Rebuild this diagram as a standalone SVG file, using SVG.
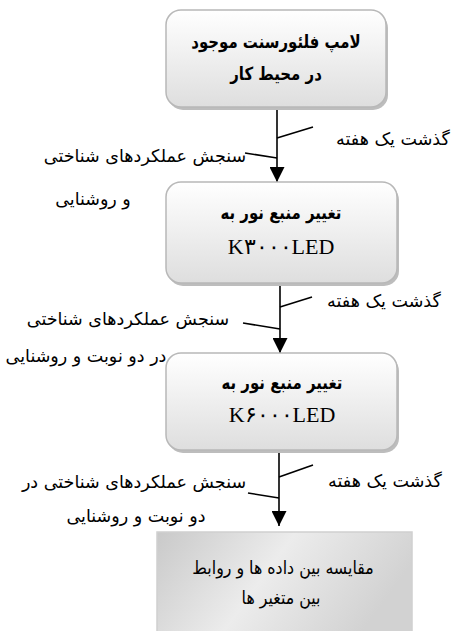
<svg xmlns="http://www.w3.org/2000/svg" width="453" height="631" viewBox="0 0 453 631">
<defs>
<linearGradient id="gBox" x1="0" y1="0" x2="0" y2="1">
<stop offset="0" stop-color="#ffffff"/>
<stop offset="1" stop-color="#dedede"/>
</linearGradient>
<linearGradient id="gBox4" x1="0" y1="0" x2="1" y2="0.3">
<stop offset="0" stop-color="#c9c9c9"/>
<stop offset="0.5" stop-color="#ececec"/>
<stop offset="1" stop-color="#d2d2d2"/>
</linearGradient>
<marker id="arr" viewBox="0 0 10 10" refX="10" refY="5" markerWidth="15" markerHeight="15" markerUnits="userSpaceOnUse" orient="auto">
<path d="M0,0 L10,5 L0,10 Z" fill="#000"/>
</marker>
</defs>
<style>
.box{fill:url(#gBox);stroke:#b8b8b8;stroke-width:1.5}
.shadow{fill:#bdbdbd}
.ar{font-family:"DejaVu Sans",sans-serif;font-size:17.5px;fill:#000;direction:rtl;unicode-bidi:embed}
.bt{font-family:"DejaVu Sans",sans-serif;font-size:18px;font-weight:bold;fill:#000;direction:rtl;unicode-bidi:embed}
.rt{font-family:"DejaVu Sans",sans-serif;font-size:18px;fill:#000;direction:rtl;unicode-bidi:embed}
.led{font-family:"Liberation Serif","DejaVu Serif",serif;font-size:22px;fill:#000}
.ln{stroke:#000;stroke-width:1.6;fill:none}
</style>
<g id="connectors">
<line class="ln" x1="277" y1="108" x2="277" y2="182" marker-end="url(#arr)"/>
<line class="ln" x1="277" y1="138" x2="313" y2="127"/>
<line class="ln" x1="245" y1="153" x2="277" y2="158"/>
<line class="ln" x1="280" y1="285" x2="280" y2="353" marker-end="url(#arr)"/>
<line class="ln" x1="280" y1="307" x2="312" y2="297"/>
<line class="ln" x1="243" y1="323" x2="280" y2="329"/>
<line class="ln" x1="279" y1="452" x2="279" y2="526" marker-end="url(#arr)"/>
<line class="ln" x1="279" y1="477" x2="313" y2="465"/>
<line class="ln" x1="248" y1="493" x2="279" y2="498"/>
<text class="ar" x="393" y="145" text-anchor="middle">گذشت یک هفته</text>
<text class="ar" x="145" y="162" text-anchor="middle">سنجش عملکردهای شناختی</text>
<text class="ar" x="93" y="205" text-anchor="middle">و روشنایی</text>
<text class="ar" x="384" y="307" text-anchor="middle">گذشت یک هفته</text>
<text class="ar" x="128" y="325" text-anchor="middle">سنجش عملکردهای شناختی</text>
<text class="ar" x="86" y="362" text-anchor="middle">در دو نوبت و روشنایی</text>
<text class="ar" x="385" y="487" text-anchor="middle">گذشت یک هفته</text>
<text class="ar" x="134" y="488" text-anchor="middle">سنجش عملکردهای شناختی در</text>
<text class="ar" x="136" y="522" text-anchor="middle">دو نوبت و روشنایی</text>
</g>
<g id="n1">
<rect class="shadow" x="168" y="13" width="220" height="97" rx="15"/>
<rect class="box" x="166" y="10" width="220" height="97" rx="15"/>
<text class="bt" transform="translate(276 48) scale(0.83 1)" text-anchor="middle">لامپ فلئورسنت موجود</text>
<text class="bt" transform="translate(276 80) scale(0.83 1)" text-anchor="middle">در محیط کار</text>
</g>
<g id="n2">
<rect class="shadow" x="168" y="185" width="231" height="101" rx="15"/>
<rect class="box" x="166" y="182" width="231" height="101" rx="15"/>
<text class="bt" transform="translate(281 219) scale(0.83 1)" text-anchor="middle">تغییر منبع نور به</text>
<text class="led" x="281" y="254" text-anchor="middle" direction="ltr" unicode-bidi="bidi-override">K۳۰۰۰LED</text>
</g>
<g id="n3">
<rect class="shadow" x="168" y="356" width="231" height="97" rx="15"/>
<rect class="box" x="166" y="353" width="231" height="97" rx="15"/>
<text class="bt" transform="translate(282 389) scale(0.83 1)" text-anchor="middle">تغییر منبع نور به</text>
<text class="led" x="282" y="422" text-anchor="middle" direction="ltr" unicode-bidi="bidi-override">K۶۰۰۰LED</text>
</g>
<g id="n4">
<rect x="157" y="532" width="255" height="105" fill="url(#gBox4)" stroke="#d0d0d0" stroke-width="1.5"/>
<text class="rt" transform="translate(283 574) scale(0.88 1)" text-anchor="middle">مقایسه بین داده ها و روابط</text>
<text class="rt" transform="translate(281 604) scale(0.88 1)" text-anchor="middle">بین متغیر ها</text>
</g>
</svg>
